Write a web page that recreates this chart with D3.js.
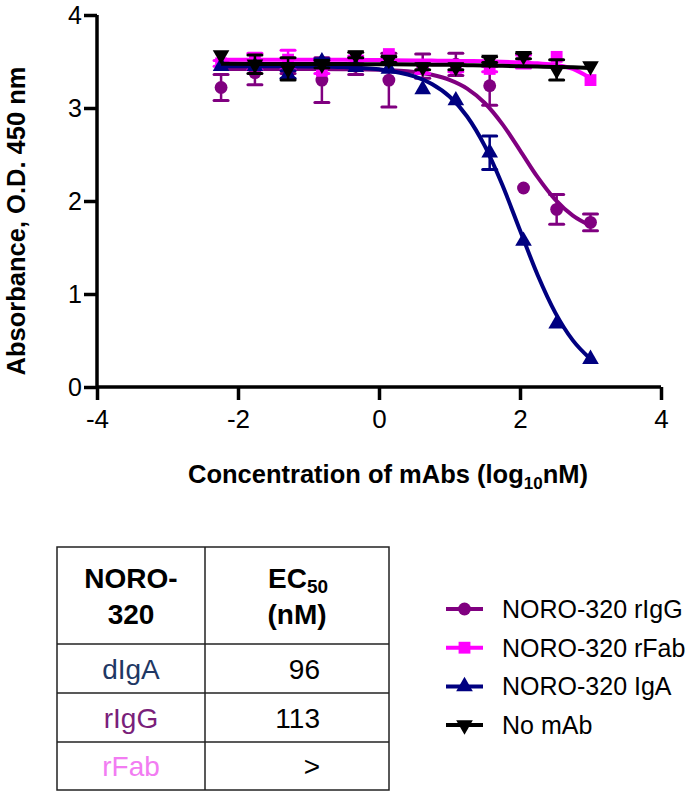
<!DOCTYPE html>
<html><head><meta charset="utf-8">
<script src="https://cdn.jsdelivr.net/npm/d3@7"></script>
<style>body{margin:0;background:#fff}svg{display:block}text{font-family:"Liberation Sans",Arial,sans-serif}</style>
</head><body><svg id="c" width="685" height="792"></svg>
<script>
// ---- data ----
const logConc = [-2.24,-1.76,-1.29,-0.81,-0.33,0.14,0.62,1.09,1.57,2.05,2.52,3.00];
const rIgG     = [3.22,3.38,3.40,3.30,3.45,3.30,3.45,3.47,3.24,2.14,1.91,1.77];
const rIgGErr  = [0.14,0.13,0.03,0.24,0.09,0.29,0.13,0.12,0.21,0.00,0.16,0.09];
const rFab     = [3.48,3.50,3.52,3.40,3.52,3.58,3.42,3.43,3.42,3.50,3.55,3.30];
const rFabErr  = [0.03,0.09,0.10,0.03,0.04,0.02,0.05,0.04,0.03,0.07,0.02,0.02];
const IgA      = [3.45,3.45,3.36,3.50,3.44,3.42,3.20,3.08,2.52,1.57,0.68,0.30];
const IgAErr   = [0.02,0.02,0.04,0.03,0.02,0.02,0.02,0.02,0.18,0.02,0.02,0.02];
const noMab    = [3.57,3.47,3.42,3.47,3.57,3.52,3.44,3.44,3.52,3.56,3.41,3.45];
const noMabErr = [0.02,0.10,0.12,0.04,0.03,0.03,0.03,0.03,0.03,0.03,0.11,0.02];
// fitted curves
const curveX     = [-2.24,-1.5,-1,-0.5,0,0.5,0.75,1,1.25,1.5,1.75,2,2.25,2.5,2.75,3];
const rIgGCurve  = [3.42,3.42,3.42,3.417,3.411,3.387,3.357,3.303,3.209,3.054,2.827,2.545,2.256,2.014,1.842,1.735];
const rFabCurve  = [3.52,3.52,3.52,3.518,3.515,3.512,3.51,3.508,3.505,3.502,3.497,3.49,3.48,3.465,3.42,3.32];
const IgACurve   = [3.45,3.449,3.447,3.44,3.416,3.34,3.258,3.123,2.909,2.592,2.171,1.685,1.205,0.800,0.501,0.301];
const noMabCurve = [3.475,3.474,3.473,3.472,3.47,3.468,3.466,3.464,3.461,3.458,3.454,3.45,3.446,3.442,3.437,3.43];
const seriesNames = ["NORO-320 rIgG","NORO-320 rFab","NORO-320 IgA","No mAb"];
const seriesColors = ["#800080","#ff00ff","#000080","#000000"];
const xTicks = [-4,-2,0,2,4];
const yTicks = [0,1,2,3,4];
const tableHeader = [["NORO-","320"],["EC50","(nM)"]];
const tableRows = ["dIgA","rIgG","rFab"];
const tableValues = ["96","113",">"];
const tableColors = ["#1f3864","#7a1f7a","#f27cf2"];

const svg = d3.select("#c");
const x = d3.scaleLinear().domain([-4,4]).range([97,661]);
const y = d3.scaleLinear().domain([0,4]).range([387,15]);

// axes
const xAxis = d3.axisBottom(x).tickValues(xTicks).tickSize(13).tickPadding(10).tickFormat(d=>d);
const gx = svg.append("g").attr("transform","translate(0,387)").call(xAxis);
gx.select(".domain").attr("stroke","#000").attr("stroke-width",3.5).attr("d","M97,0H661");
gx.selectAll(".tick line").attr("stroke","#000").attr("stroke-width",3.5);
gx.selectAll(".tick text").attr("font-size",26).attr("fill","#000");
const yAxis = d3.axisLeft(y).tickValues(yTicks).tickSize(13).tickPadding(2).tickFormat(d=>d);
const gy = svg.append("g").attr("transform","translate(97,0)").call(yAxis);
gy.select(".domain").attr("stroke","#000").attr("stroke-width",3.5).attr("d","M0,15V387");
gy.selectAll(".tick line").attr("stroke","#000").attr("stroke-width",3.5);
gy.selectAll(".tick text").attr("font-size",25).attr("fill","#000");

svg.append("text").attr("transform","translate(25,221) rotate(-90)").attr("text-anchor","middle")
  .attr("font-size",25.5).attr("font-weight","bold").text("Absorbance, O.D. 450 nm");
const xl = svg.append("text").attr("x",388).attr("y",483).attr("text-anchor","middle")
  .attr("font-size",25.5).attr("font-weight","bold");
xl.append("tspan").text("Concentration of mAbs (log");
xl.append("tspan").attr("font-size",17).attr("dy",6).text("10");
xl.append("tspan").attr("dy",-6).text("nM)");

// markers
const sym = [d3.symbolCircle, d3.symbolSquare, d3.symbolTriangle, d3.symbolTriangle];
const symSize = [130,140,120,120];
const symRot = [0,0,0,180];
function drawMarker(g, i, cx, cy){
  g.append("path").attr("d", d3.symbol().type(sym[i]).size(symSize[i])())
    .attr("transform",`translate(${cx},${cy}) rotate(${symRot[i]})`)
    .attr("fill",seriesColors[i]);
}
const means = [rIgG,rFab,IgA,noMab];
const errs = [rIgGErr,rFabErr,IgAErr,noMabErr];
const curves = [rIgGCurve,rFabCurve,IgACurve,noMabCurve];
const line = d3.line().curve(d3.curveMonotoneX);
const plot = svg.append("g");
means.forEach((m,i)=>{
  const g = plot.append("g");
  const c = seriesColors[i];
  logConc.forEach((lc,k)=>{
    const e = errs[i][k]; if(e<=0.02) return;
    const px = x(lc), y1 = y(m[k]+e), y2 = y(m[k]-e);
    g.append("line").attr("x1",px).attr("x2",px).attr("y1",y1).attr("y2",y2).attr("stroke",c).attr("stroke-width",2.5);
    [y1,y2].forEach(yy=>g.append("line").attr("x1",px-7).attr("x2",px+7).attr("y1",yy).attr("y2",yy)
      .attr("stroke",c).attr("stroke-width",3).attr("stroke-linecap","round"));
  });
  g.append("path").attr("d", line(curveX.map((cx,k)=>[x(cx), y(curves[i][k])])))
    .attr("fill","none").attr("stroke",c).attr("stroke-width",4);
  logConc.forEach((lc,k)=>drawMarker(g,i,x(lc),y(m[k])));
});

// legend
seriesNames.forEach((n,i)=>{
  const ly = 609 + i*38.7;
  const g = svg.append("g");
  g.append("line").attr("x1",446).attr("x2",483).attr("y1",ly).attr("y2",ly).attr("stroke",seriesColors[i]).attr("stroke-width",4);
  drawMarker(g,i,464.5,ly);
  g.append("text").attr("x",502).attr("y",ly+9).attr("font-size",25).attr("fill","#000").text(n);
});

// table
const tb = svg.append("g");
const tx = [57,205,389], ty = [547,644,693,742,790];
tb.append("rect").attr("x",tx[0]).attr("y",ty[0]).attr("width",tx[2]-tx[0]).attr("height",ty[4]-ty[0])
  .attr("fill","none").attr("stroke","#222").attr("stroke-width",1.5);
tb.append("line").attr("x1",tx[1]).attr("x2",tx[1]).attr("y1",ty[0]).attr("y2",ty[4]).attr("stroke","#222").attr("stroke-width",1.5);
ty.slice(1,4).forEach(yy=>tb.append("line").attr("x1",tx[0]).attr("x2",tx[2]).attr("y1",yy).attr("y2",yy).attr("stroke","#222").attr("stroke-width",1.5));
tb.append("text").attr("x",131).attr("y",588).attr("text-anchor","middle").attr("font-size",28).attr("font-weight","bold").text(tableHeader[0][0]);
tb.append("text").attr("x",131).attr("y",624).attr("text-anchor","middle").attr("font-size",28).attr("font-weight","bold").text(tableHeader[0][1]);
const ec = tb.append("text").attr("x",298).attr("y",588).attr("text-anchor","middle").attr("font-size",28).attr("font-weight","bold");
ec.append("tspan").text(tableHeader[1][0].slice(0,2));
ec.append("tspan").attr("font-size",19).attr("dy",5).text(tableHeader[1][0].slice(2));
tb.append("text").attr("x",297).attr("y",624).attr("text-anchor","middle").attr("font-size",28).attr("font-weight","bold").text(tableHeader[1][1]);
tableRows.forEach((r,i)=>{
  const by = (ty[i+1]+ty[i+2])/2 + 10;
  tb.append("text").attr("x",131).attr("y",by).attr("text-anchor","middle").attr("font-size",28).attr("fill",tableColors[i]).text(r);
  tb.append("text").attr("x",320).attr("y",by).attr("text-anchor","end").attr("font-size",28).attr("fill","#000").text(tableValues[i]);
});
</script></body></html>
